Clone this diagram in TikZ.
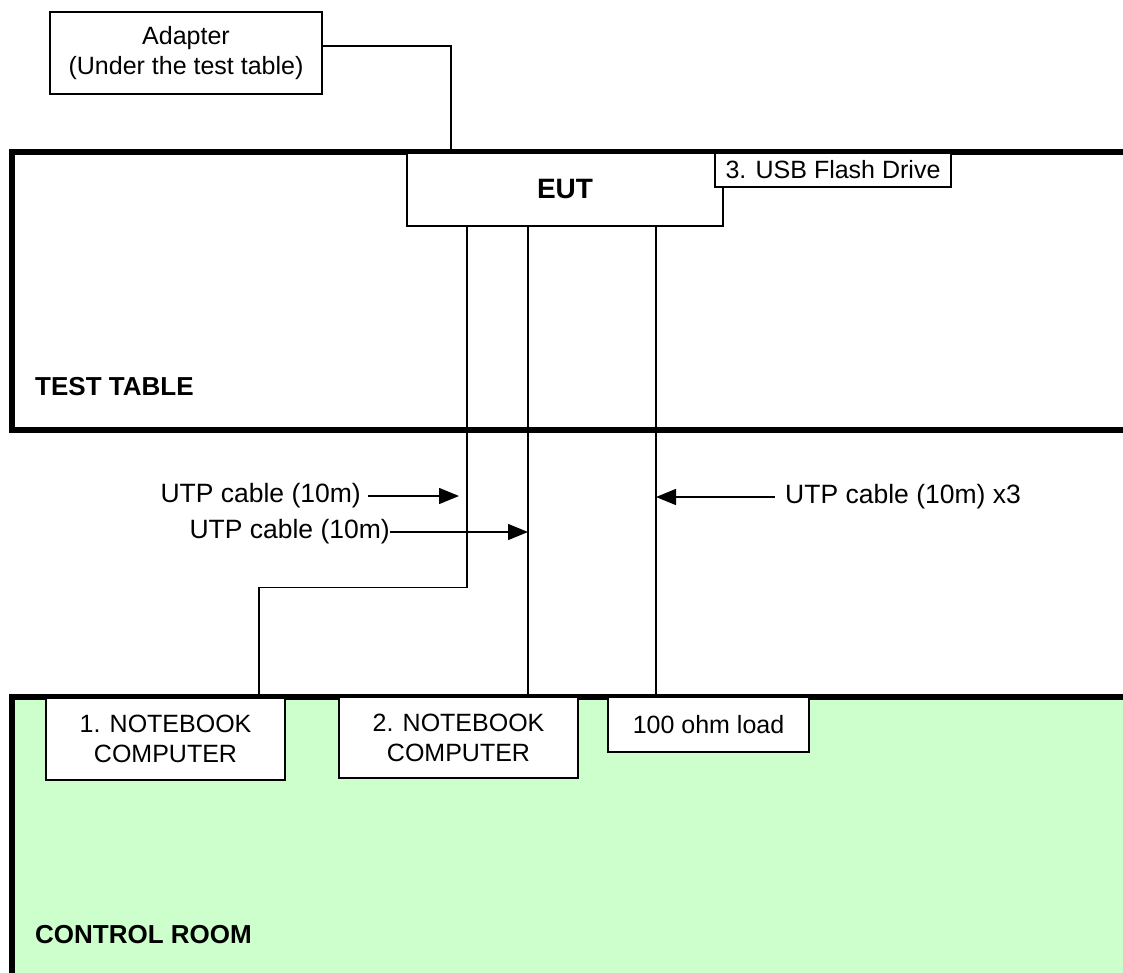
\documentclass[tikz,border=0pt]{standalone}
\usepackage{fontspec}
\setmainfont{Liberation Sans}
\usetikzlibrary{arrows.meta}
\definecolor{roomgreen}{HTML}{CCFFCC}
\tikzset{
	unitbox/.style={draw,fill=white,line width=1.4pt,align=center,inner sep=0pt,
		font=\fontsize{25}{30}\selectfont},
	roomwall/.style={line width=5.5pt},
	cable/.style={line width=1.4pt},
	cablearrow/.style={line width=1.4pt,-{Triangle[length=20pt,width=16pt]}},
	plainlabel/.style={inner sep=0pt,font=\fontsize{26.5}{30}\selectfont},
	roomlabel/.style={inner sep=0pt,anchor=west,font=\fontsize{26}{30}\selectfont\bfseries}
}

\begin{document}
\begin{tikzpicture}[x=1pt,y=-1pt]
\useasboundingbox (0,0) rectangle (1123,972);
\clip (0,0) rectangle (1123,972);

%rooms
\draw[roomwall] (12,152) rectangle (1150,430);
\draw[roomwall,fill=roomgreen] (12,697) rectangle (1150,1010);
\node[roomlabel] (testtable) at (35,387) {TEST TABLE};
\node[roomlabel] (controlroom) at (35,935) {CONTROL ROOM};

%units
\node[unitbox,minimum width=272,minimum height=82] (adapter) at (186,53) {Adapter\\(Under the test table)};
\node[unitbox,minimum width=316,minimum height=73,font=\fontsize{28}{30}\selectfont\bfseries] (eut) at (565,189.5) {EUT};
\node[unitbox,minimum width=236,minimum height=34] (usb) at (833,170) {3. USB Flash Drive};
\node[unitbox,minimum width=239,minimum height=82] (nbone) at (165.5,739) {1. NOTEBOOK\\COMPUTER};
\node[unitbox,minimum width=239,minimum height=81] (nbtwo) at (458.5,737.5) {2. NOTEBOOK\\COMPUTER};
\node[unitbox,minimum width=201,minimum height=55] (load) at (708.5,724.5) {100 ohm load};

%cables
\draw[cable] ([yshift=7]adapter.east) -| ([xshift=-114,yshift=-2]eut.north);
\draw[cable] ([xshift=-98]eut.south) -- ++(0,361) -| ([xshift=93.5]nbone.north);
\draw[cable] ([xshift=-37]eut.south) -- ([xshift=-37]eut.south |- nbtwo.north);
\draw[cable] ([xshift=91]eut.south) -- ([xshift=91]eut.south |- load.north);

%cable labels
\node[plainlabel,anchor=east] (utpone) at (361,496) {UTP cable (10m)};
\node[plainlabel,anchor=east] (utptwo) at (390,532) {UTP cable (10m)};
\node[plainlabel,anchor=west] (utpthree) at (785,497) {UTP cable (10m) x3};
\coordinate (tipone) at (459,496);
\coordinate (tiptwo) at (528,532);
\coordinate (tipthree) at (656,497);
\draw[cablearrow] ([xshift=7]utpone.east) -- (tipone);
\draw[cablearrow] (utptwo.east) -- (tiptwo);
\draw[cablearrow] ([xshift=-10]utpthree.west) -- (tipthree);
\end{tikzpicture}
\end{document}
